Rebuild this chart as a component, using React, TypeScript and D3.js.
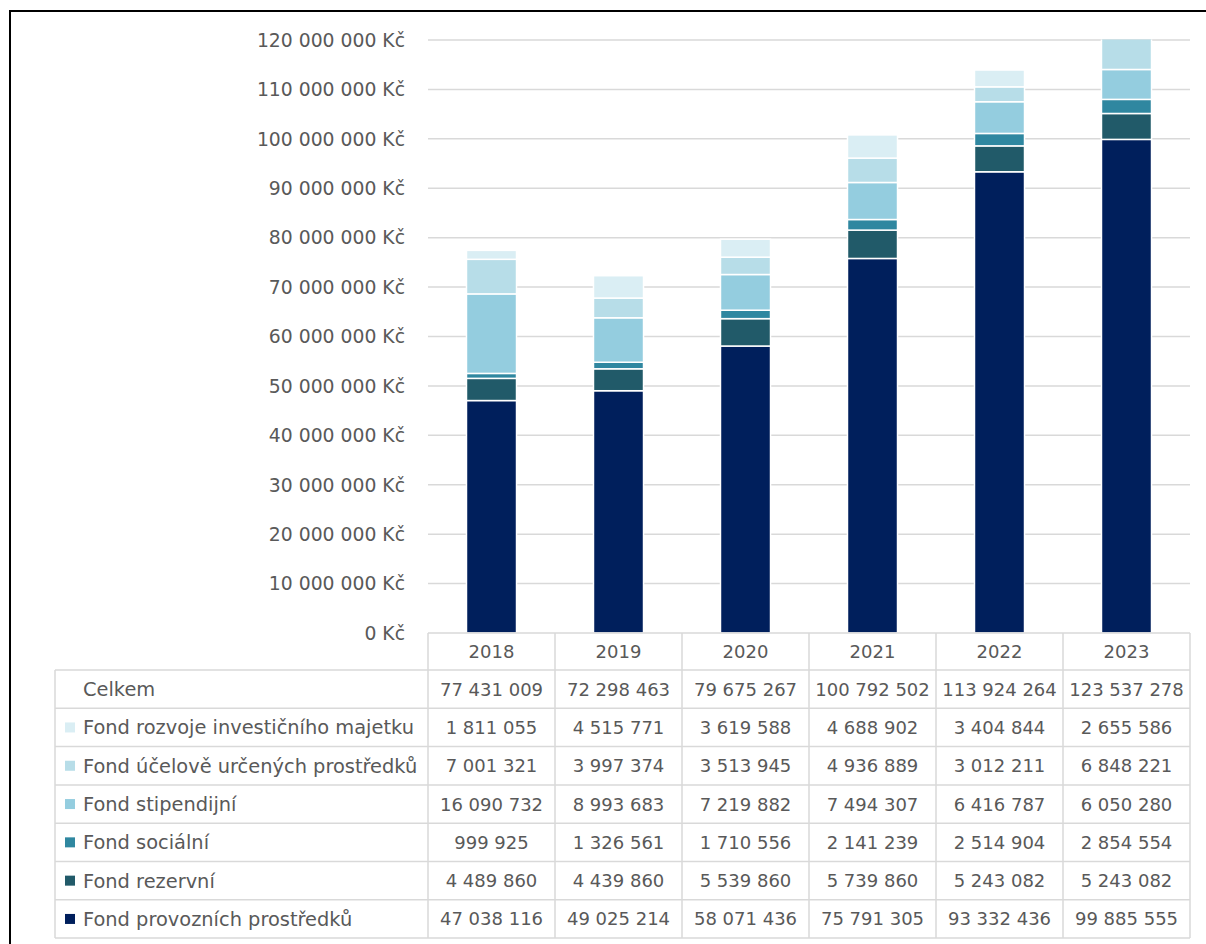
import React from 'react';
import * as d3 from 'd3';

const years = ['2018', '2019', '2020', '2021', '2022', '2023'];

const seriesNames = [
  'Fond provozních prostředků',
  'Fond rezervní',
  'Fond sociální',
  'Fond stipendijní',
  'Fond účelově určených prostředků',
  'Fond rozvoje investičního majetku',
];

const seriesColors = ['#001f5c', '#215a69', '#2f87a0', '#94cddf', '#b7dde8', '#daeef4'];

const provozni = [47038116, 49025214, 58071436, 75791305, 93332436, 99885555];
const rezervni = [4489860, 4439860, 5539860, 5739860, 5243082, 5243082];
const socialni = [999925, 1326561, 1710556, 2141239, 2514904, 2854554];
const stipendijni = [16090732, 8993683, 7219882, 7494307, 6416787, 6050280];
const ucelove = [7001321, 3997374, 3513945, 4936889, 3012211, 6848221];
const rozvoje = [1811055, 4515771, 3619588, 4688902, 3404844, 2655586];
const celkem = [77431009, 72298463, 79675267, 100792502, 113924264, 123537278];

const seriesValues = [provozni, rezervni, socialni, stipendijni, ucelove, rozvoje];

const yTicks = d3.range(0, 120000001, 10000000);

const fmt = (v: number) => String(v).replace(/\B(?=(\d{3})+(?!\d))/g, ' ');

const font = '"DejaVu Sans", "Noto Sans", sans-serif';
const textColor = '#595959';
const gridColor = '#d9d9d9';

export default function App() {
  const plotLeft = 428;
  const plotRight = 1190;
  const plotTop = 40;
  const plotBottom = 633;
  const tableLeft = 55;
  const rowH = 38.3;

  const x = d3.scaleBand<string>().domain(years).range([plotLeft, plotRight]).paddingInner(0).paddingOuter(0);
  const y = d3.scaleLinear().domain([0, 120000000]).range([plotBottom, plotTop]);
  const barW = x.bandwidth() * 0.394;

  const rows = years.map((yr, i) => {
    const obj: Record<string, number | string> = { year: yr };
    seriesNames.forEach((s, k) => (obj[s] = seriesValues[k][i]));
    return obj;
  });
  const stacked = d3.stack<Record<string, number | string>>().keys(seriesNames)(rows as any);

  // table rows: Celkem then series top-down
  const tableRows = [
    { label: 'Celkem', color: null as string | null, values: celkem },
    ...seriesNames
      .map((s, k) => ({ label: s, color: seriesColors[k], values: seriesValues[k] }))
      .reverse(),
  ];
  const headerTop = plotBottom;
  const bodyTop = headerTop + 37;
  const tableBottom = bodyTop + rowH * tableRows.length;
  const colEdges = [plotLeft, ...years.map((yr) => (x(yr) as number) + x.bandwidth())];

  return (
    <div style={{ position: 'absolute', left: 0, top: 0 }}>
      <svg width={1206} height={944} style={{ display: 'block', fontFamily: font }}>
        <defs>
          <clipPath id="plotClip">
            <rect x={plotLeft} y={plotTop - 0.5} width={plotRight - plotLeft} height={plotBottom - plotTop + 1} />
          </clipPath>
        </defs>
        <rect x={0} y={0} width={1206} height={944} fill="#fff" />
        {/* outer frame */}
        <line x1={10} x2={1206} y1={11} y2={11} stroke="#000" strokeWidth={2} />
        <line x1={10} x2={10} y1={10} y2={944} stroke="#000" strokeWidth={2} />

        {/* grid + y labels */}
        {yTicks.map((t) => (
          <g key={t}>
            {t > 0 && (
              <line x1={plotLeft} x2={plotRight} y1={y(t)} y2={y(t)} stroke={gridColor} strokeWidth={1.5} />
            )}
            <text x={405} y={y(t)} dy="0.36em" textAnchor="end" fontSize={18.8} fill={textColor}>
              {t === 0 ? '0 Kč' : fmt(t) + ' Kč'}
            </text>
          </g>
        ))}

        {/* bars */}
        <g clipPath="url(#plotClip)">
          {stacked.map((layer, k) => (
            <g key={layer.key} fill={seriesColors[k]}>
              {layer.map((d, i) => (
                <rect
                  key={i}
                  x={(x(years[i]) as number) + (x.bandwidth() - barW) / 2}
                  y={y(d[1])}
                  width={barW}
                  height={Math.max(0, y(d[0]) - y(d[1]))}
                  stroke="#fff"
                  strokeWidth={1.5}
                />
              ))}
            </g>
          ))}
        </g>

        {/* table */}
        <g stroke={gridColor} strokeWidth={1.5}>
          <line x1={plotLeft} x2={plotRight} y1={headerTop} y2={headerTop} />
          {colEdges.map((cx, i) => (
            <line key={'hc' + i} x1={cx} x2={cx} y1={headerTop} y2={tableBottom} />
          ))}
          <line x1={tableLeft} x2={tableLeft} y1={bodyTop} y2={tableBottom} />
          {tableRows.map((_, r) => (
            <line key={'rl' + r} x1={tableLeft} x2={plotRight} y1={bodyTop + r * rowH} y2={bodyTop + r * rowH} />
          ))}
          <line x1={tableLeft} x2={plotRight} y1={tableBottom} y2={tableBottom} />
        </g>
        {years.map((yr) => (
          <text
            key={yr}
            x={(x(yr) as number) + x.bandwidth() / 2}
            y={(headerTop + bodyTop) / 2}
            dy="0.36em"
            textAnchor="middle"
            fontSize={18}
            fill={textColor}
          >
            {yr}
          </text>
        ))}
        {tableRows.map((row, r) => {
          const cy = bodyTop + r * rowH + rowH / 2;
          return (
            <g key={row.label}>
              {row.color && <rect x={65} y={cy - 5} width={10} height={10} fill={row.color} />}
              <text x={83} y={cy} dy="0.36em" fontSize={19.4} fill={textColor}>
                {row.label}
              </text>
              {row.values.map((v, i) => (
                <text
                  key={i}
                  x={(x(years[i]) as number) + x.bandwidth() / 2}
                  y={cy}
                  dy="0.36em"
                  textAnchor="middle"
                  fontSize={18}
                  fill={textColor}
                >
                  {fmt(v)}
                </text>
              ))}
            </g>
          );
        })}
      </svg>
    </div>
  );
}
